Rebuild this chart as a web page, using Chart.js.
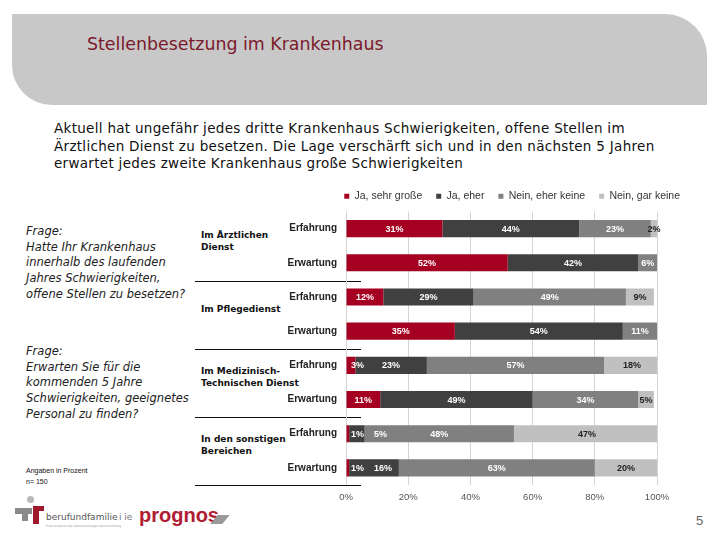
<!DOCTYPE html>
<html>
<head>
<meta charset="utf-8">
<script src="https://cdn.jsdelivr.net/npm/chart.js@4"></script>
<style>
  body { margin:0; width:720px; height:540px; background:#fff; position:relative; overflow:hidden; font-family:"DejaVu Sans", sans-serif; }
  .abs { position:absolute; white-space:nowrap; }
  .head { left:12px; top:14px; width:695px; height:91px; background:#c8c8c8; border-radius:0 42px 0 40px; }
  .title { left:87px; top:34px; font-size:17.4px; color:#7b1a2a; }
  .sub { left:54px; top:120px; font-size:13.5px; letter-spacing:0.3px; line-height:17.5px; color:#111; }
  .frage { left:26px; font-size:11.5px; font-style:italic; line-height:15.7px; color:#222; }
  .grp { left:201px; font-size:9px; font-weight:bold; line-height:12px; color:#111; }
  .sep { left:195px; width:166px; height:1px; background:#111; }
  .note { left:26px; font-family:"Liberation Sans"; font-size:7px; line-height:11px; color:#111; }
</style>
</head>
<body>
<div class="abs head"></div>
<div class="abs title">Stellenbesetzung im Krankenhaus</div>
<div class="abs sub">Aktuell hat ungefähr jedes dritte Krankenhaus Schwierigkeiten, offene Stellen im<br>Ärztlichen Dienst zu besetzen. Die Lage verschärft sich und in den nächsten 5 Jahren<br>erwartet jedes zweite Krankenhaus große Schwierigkeiten</div>

<div class="abs frage" style="top:224px">Frage:<br>Hatte Ihr Krankenhaus<br>innerhalb des laufenden<br>Jahres Schwierigkeiten,<br>offene Stellen zu besetzen?</div>
<div class="abs frage" style="top:344px">Frage:<br>Erwarten Sie für die<br>kommenden 5 Jahre<br>Schwierigkeiten, geeignetes<br>Personal zu finden?</div>

<div class="abs grp" style="top:229px">Im Ärztlichen<br>Dienst</div>
<div class="abs grp" style="top:303px">Im Pflegedienst</div>
<div class="abs grp" style="top:365px">Im Medizinisch-<br>Technischen Dienst</div>
<div class="abs grp" style="top:433px">In den sonstigen<br>Bereichen</div>
<div class="abs sep" style="top:281px"></div>
<div class="abs sep" style="top:349px"></div>
<div class="abs sep" style="top:417px"></div>
<div class="abs sep" style="top:485px"></div>

<div class="abs note" style="top:465px">Angaben in Prozent<br>n= 150</div>

<!-- logos -->
<div class="abs" style="left:27px;top:496px;width:7px;height:7px;border-radius:50%;background:#b8b8b8"></div>
<div class="abs" style="left:15px;top:508px;width:17px;height:6px;background:#8a8a8a"></div>
<div class="abs" style="left:22px;top:514px;width:6px;height:7px;background:#8a8a8a"></div>
<div class="abs" style="left:33px;top:506px;width:11px;height:5px;background:#a0182b"></div>
<div class="abs" style="left:33px;top:506px;width:6px;height:18px;background:#a0182b"></div>
<div class="abs" style="left:46px;top:512px;font-size:9px;color:#555">berufundfamilie</div>
<div class="abs" style="left:46px;top:524px;font-size:3px;color:#999">Eine Initiative der Gemeinnützigen Hertie-Stiftung</div>
<div class="abs" style="left:119px;top:512px;font-size:9px;color:#777">i ie</div>
<div class="abs" style="left:139px;top:504px;font-family:'Liberation Sans';font-weight:bold;font-size:20px;color:#b01c33">prognos</div>
<div class="abs" style="left:214px;top:515px;width:12px;height:9px;background:#9a9a9a;transform:skewX(-40deg)"></div>
<div class="abs" style="left:696px;top:513px;font-family:'Liberation Sans';font-size:13px;color:#666">5</div>

<canvas id="myChart" class="abs" width="420" height="328" style="left:280px;top:177px"></canvas>

<script>
var categories = ['Erfahrung','Erwartung','Erfahrung','Erwartung','Erfahrung','Erwartung','Erfahrung','Erwartung'];
var seriesNames = ['Ja, sehr große','Ja, eher','Nein, eher keine','Nein, gar keine'];
var jaSehr   = [31, 52, 12, 35,  3, 11,  1,  1];
var jaEher   = [44, 42, 29, 54, 23, 49,  5, 16];
var neinEher = [23,  6, 49, 11, 57, 34, 48, 63];
var neinGar  = [ 2,  0,  9,  0, 18,  5, 47, 20];
var xTicks = [0, 20, 40, 60, 80, 100];

var colors = ['#a50021', '#404040', '#808080', '#c0c0c0'];
var labelColors = ['#fff', '#fff', '#fff', '#222'];

var valueLabels = {
  id: 'valueLabels',
  afterDatasetsDraw: function(chart) {
    var ctx = chart.ctx;
    ctx.save();
    ctx.font = 'bold 9px "Liberation Sans"';
    ctx.textBaseline = 'middle';
    ctx.textAlign = 'left';
    var n = chart.data.labels.length;
    for (var i = 0; i < n; i++) {
      var prevRight = -1e9;
      for (var d = 0; d < chart.data.datasets.length; d++) {
        var v = chart.data.datasets[d].data[i];
        if (!v) continue;
        var el = chart.getDatasetMeta(d).data[i];
        var txt = v + '%';
        var w = ctx.measureText(txt).width;
        var left = (el.x + el.base) / 2 - w / 2;
        if (prevRight < -1e8) left = Math.max(left, chart.chartArea.left + 5);
        if (left < prevRight + 10) left = prevRight + 10;
        ctx.fillStyle = labelColors[d];
        ctx.fillText(txt, left, el.y + 0.5);
        prevRight = left + w;
      }
    }
    ctx.restore();
  }
};

// nudge the legend to the right so it sits over the bars like the original
var legendShift = {
  id: 'legendShift',
  afterLayout: function(chart) {
    chart.legend.left += 37;
    chart.legend.right += 37;
  }
};

new Chart('myChart', {
  type: 'bar',
  data: {
    labels: categories,
    datasets: [jaSehr, jaEher, neinEher, neinGar].map(function(arr, k) {
      return {
        label: seriesNames[k],
        data: arr,
        backgroundColor: colors[k],
        borderWidth: 0,
        categoryPercentage: 1,
        barPercentage: 0.5
      };
    })
  },
  options: {
    indexAxis: 'y',
    responsive: false,
    animation: false,
    devicePixelRatio: 1,
    layout: { padding: { top: 0, right: 43, bottom: 0, left: 0 } },
    plugins: {
      tooltip: { enabled: false },
      legend: {
        display: true,
        position: 'top',
        align: 'end',
        labels: {
          boxWidth: 5, boxHeight: 5, padding: 14,
          color: '#333',
          font: { family: 'Liberation Sans', size: 10.5 }
        }
      }
    },
    scales: {
      x: {
        stacked: true,
        min: 0, max: 100,
        afterBuildTicks: function(scale) { scale.ticks = xTicks.map(function(v) { return { value: v }; }); },
        afterFit: function(scale) { scale.height = 20; },
        ticks: {
          padding: 7,
          color: '#555',
          font: { family: 'Liberation Sans', size: 9.5 },
          callback: function(v) { return v + '%'; }
        },
        grid: { color: '#d4d4d4', drawTicks: false },
        border: { display: false }
      },
      y: {
        stacked: true,
        afterFit: function(scale) { scale.width = 66; },
        ticks: {
          padding: 1,
          color: '#222',
          font: { family: 'Liberation Sans', size: 10, weight: 'bold' }
        },
        grid: { display: false },
        border: { display: false }
      }
    }
  },
  plugins: [valueLabels, legendShift]
});
</script>
</body>
</html>
